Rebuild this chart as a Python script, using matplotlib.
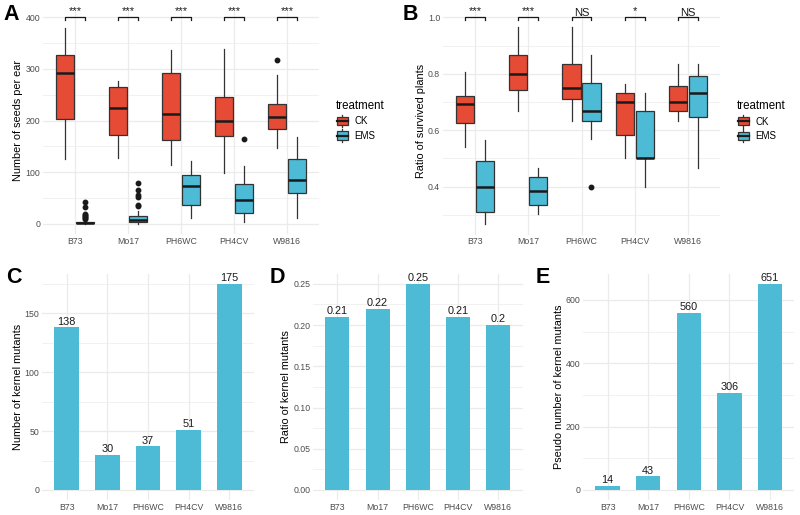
import matplotlib
matplotlib.use("Agg")
import matplotlib.pyplot as plt
from matplotlib.patches import Patch, Rectangle
from matplotlib.lines import Line2D
from matplotlib.legend_handler import HandlerBase
import numpy as np

plt.rcParams['font.family'] = ['Liberation Sans', 'DejaVu Sans']

genotypes = ['B73', 'Mo17', 'PH6WC', 'PH4CV', 'W9816']

# Panel A: seeds per ear (box stats)
seeds_ck_low = [126, 128, 115, 98, 148]
seeds_ck_q1 = [204, 173, 162, 171, 183]
seeds_ck_med = [292, 225, 213, 200, 208]
seeds_ck_q3 = [328, 265, 292, 245, 233]
seeds_ck_high = [379, 277, 336, 339, 289]
seeds_ck_fliers = [[], [], [], [], [317]]

seeds_ems_low = [0, 0, 12, 3, 11]
seeds_ems_q1 = [1, 3, 36, 22, 59]
seeds_ems_med = [2.5, 7, 73, 46, 86]
seeds_ems_q3 = [4, 15, 94, 77, 126]
seeds_ems_high = [8, 26, 121, 112, 168]
seeds_ems_fliers = [[43, 32, 20, 18, 16, 14, 12, 10], [79, 66, 57, 52, 37, 34], [], [165], []]
seeds_sig = ['***', '***', '***', '***', '***']

# Panel B: ratio of survived plants
surv_ck_low = [0.539, 0.667, 0.633, 0.5, 0.633]
surv_ck_q1 = [0.624, 0.742, 0.71, 0.583, 0.667]
surv_ck_med = [0.692, 0.8, 0.75, 0.7, 0.7]
surv_ck_q3 = [0.72, 0.867, 0.833, 0.733, 0.757]
surv_ck_high = [0.808, 0.965, 0.965, 0.765, 0.833]
surv_ck_fliers = [[], [], [], [], []]

surv_ems_low = [0.267, 0.302, 0.568, 0.4, 0.467]
surv_ems_q1 = [0.31, 0.334, 0.633, 0.5, 0.648]
surv_ems_med = [0.4, 0.384, 0.667, 0.5, 0.733]
surv_ems_q3 = [0.49, 0.433, 0.767, 0.667, 0.793]
surv_ems_high = [0.565, 0.465, 0.867, 0.733, 0.833]
surv_ems_fliers = [[], [], [0.4], [], []]
surv_sig = ['***', '***', 'NS', '*', 'NS']

# Panels C-E
kernel_mutants = [138, 30, 37, 51, 175]
kernel_ratio = [0.21, 0.22, 0.25, 0.21, 0.2]
pseudo_mutants = [14, 43, 560, 306, 651]

CK_COLOR = '#E64B35'
EMS_COLOR = '#4DBBD5'
EDGE = '#333333'
GRID = '#EBEBEB'
TICK_COLOR = '#4D4D4D'

W, H = 800, 515
fig = plt.figure(figsize=(8, 5.15), dpi=100)


def px_axes(x0, x1, ytop, ybot):
    return fig.add_axes([x0 / W, 1 - ybot / H, (x1 - x0) / W, (ybot - ytop) / H])


def style(ax, minor_y):
    for s in ax.spines.values():
        s.set_visible(False)
    ax.set_axisbelow(True)
    ax.tick_params(length=0, labelsize=6.3, labelcolor=TICK_COLOR, pad=2)
    ax.grid(which='major', color=GRID, lw=0.9)
    if minor_y is not None:
        ax.set_yticks(minor_y, minor=True)
        ax.grid(which='minor', axis='y', color=GRID, lw=0.5)
    ax.tick_params(which='minor', length=0)


def make_stats(lo, q1, med, q3, hi, fl):
    return [dict(whislo=a, q1=b, med=c, q3=d, whishi=e, fliers=f)
            for a, b, c, d, e, f in zip(lo, q1, med, q3, hi, fl)]


def draw_boxes(ax, stats, pos, color):
    ax.bxp(stats, positions=pos, widths=0.34, patch_artist=True, showcaps=False,
           boxprops=dict(facecolor=color, edgecolor=EDGE, linewidth=0.9),
           medianprops=dict(color='#1a1a1a', linewidth=1.8),
           whiskerprops=dict(color=EDGE, linewidth=0.9),
           flierprops=dict(marker='o', markerfacecolor='#1a1a1a',
                           markeredgecolor='#1a1a1a', markersize=3.2))


class BoxHandler(HandlerBase):
    def create_artists(self, legend, orig_handle, xdescent, ydescent, width, height, fontsize, trans):
        fc = orig_handle.get_facecolor()
        bw, bh = width * 0.9, height * 0.75
        x0 = -xdescent + (width - bw) / 2
        y0 = -ydescent + (height - bh) / 2
        r = Rectangle((x0, y0), bw, bh, facecolor=fc, edgecolor=EDGE, lw=0.9, transform=trans)
        cx = x0 + bw / 2
        w1 = Line2D([cx, cx], [y0 + bh, y0 + bh + height * 0.2], color=EDGE, lw=0.9, transform=trans)
        w2 = Line2D([cx, cx], [y0, y0 - height * 0.2], color=EDGE, lw=0.9, transform=trans)
        m = Line2D([x0, x0 + bw], [y0 + bh / 2] * 2, color='#1a1a1a', lw=1.6, transform=trans)
        return [w1, w2, r, m]


def box_panel(ax, ck, ems, sig, ybr, tip, star_y, ns_y, ylim, yticks, minor, ylabel, fmt):
    x = np.arange(1, len(genotypes) + 1)
    off = 0.1875
    draw_boxes(ax, ck, x - off, CK_COLOR)
    draw_boxes(ax, ems, x + off, EMS_COLOR)
    ax.set_xlim(0.4, len(genotypes) + 0.6)
    ax.set_ylim(*ylim)
    ax.set_xticks(x)
    ax.set_xticklabels(genotypes)
    ax.set_yticks(yticks)
    ax.set_yticklabels([fmt(v) for v in yticks])
    style(ax, minor)
    ax.set_ylabel(ylabel, fontsize=7.8, labelpad=1.5)
    for xi, s in zip(x, sig):
        ax.plot([xi - off, xi - off, xi + off, xi + off], [ybr - tip, ybr, ybr, ybr - tip],
                color='#1a1a1a', lw=0.9, clip_on=False)
        if s == 'NS':
            ax.text(xi, ns_y, s, ha='center', va='center', fontsize=8, color='#1a1a1a', clip_on=False)
        else:
            ax.text(xi, star_y, s, ha='center', va='center', fontsize=8, color='#1a1a1a', clip_on=False)
    ax.legend(handles=[Patch(facecolor=CK_COLOR), Patch(facecolor=EMS_COLOR)],
              labels=['CK', 'EMS'], title='treatment', loc='center left',
              bbox_to_anchor=(1.03, 0.5), frameon=False, fontsize=7, title_fontsize=8.3,
              handler_map={Patch: BoxHandler()}, handlelength=1.25, handleheight=1.35,
              handletextpad=0.6, labelspacing=0.35, alignment='left')


# Panel A
axA = px_axes(43, 319, 7, 234.3)
box_panel(axA,
          make_stats(seeds_ck_low, seeds_ck_q1, seeds_ck_med, seeds_ck_q3, seeds_ck_high, seeds_ck_fliers),
          make_stats(seeds_ems_low, seeds_ems_q1, seeds_ems_med, seeds_ems_q3, seeds_ems_high, seeds_ems_fliers),
          seeds_sig, 400, 6, 412, 416, (-20, 420), [0, 100, 200, 300, 400],
          [50, 150, 250, 350], 'Number of seeds per ear', lambda v: f'{v:g}')

# Panel B
axB = px_axes(443, 720, 7, 234.5)
box_panel(axB,
          make_stats(surv_ck_low, surv_ck_q1, surv_ck_med, surv_ck_q3, surv_ck_high, surv_ck_fliers),
          make_stats(surv_ems_low, surv_ems_q1, surv_ems_med, surv_ems_q3, surv_ems_high, surv_ems_fliers),
          surv_sig, 1.0, 0.011, 1.022, 1.017, (0.2305, 1.0367), [0.4, 0.6, 0.8, 1.0],
          [0.3, 0.5, 0.7, 0.9], 'Ratio of survived plants', lambda v: f'{v:.1f}')


def bar_panel(ax, vals, ylim, yticks, minor, ylabel, fmt):
    x = np.arange(1, len(genotypes) + 1)
    bars = ax.bar(x, vals, width=0.6, color=EMS_COLOR, edgecolor='none')
    ax.bar_label(bars, labels=[f'{v:g}' for v in vals], padding=0.5, fontsize=7.8,
                 color='#1a1a1a', clip_on=False)
    ax.set_xlim(0.4, len(genotypes) + 0.6)
    ax.set_ylim(*ylim)
    ax.set_xticks(x)
    ax.set_xticklabels(genotypes)
    ax.set_yticks(yticks)
    ax.set_yticklabels([fmt(v) for v in yticks])
    style(ax, minor)
    ax.set_ylabel(ylabel, fontsize=7.8, labelpad=1.5)


axC = px_axes(42.3, 253.7, 273.5, 500.3)
bar_panel(axC, kernel_mutants, (-8.75, 183.75), [0, 50, 100, 150], [25, 75, 125, 175],
          'Number of kernel mutants', lambda v: f'{v:g}')

axD = px_axes(313.2, 522.5, 273.5, 500.3)
bar_panel(axD, kernel_ratio, (-0.0125, 0.2625), [0, 0.05, 0.10, 0.15, 0.20, 0.25],
          [0.025, 0.075, 0.125, 0.175, 0.225], 'Ratio of kernel mutants', lambda v: f'{v:.2f}')

axE = px_axes(583.3, 794.4, 273.5, 500.3)
bar_panel(axE, pseudo_mutants, (-32.55, 683.55), [0, 200, 400, 600], [100, 300, 500],
          'Pseudo number of kernel mutants', lambda v: f'{v:g}')

# Panel letters
for lab, (px, py) in zip(['A', 'B', 'C', 'D', 'E'],
                         [(3, 4), (403, 4), (6, 267), (270, 267), (536, 267)]):
    fig.text(px / W, 1 - py / H, lab, fontsize=15.5, fontweight='bold', ha='left', va='top')

fig.savefig('out.png', dpi=100, facecolor='white')
